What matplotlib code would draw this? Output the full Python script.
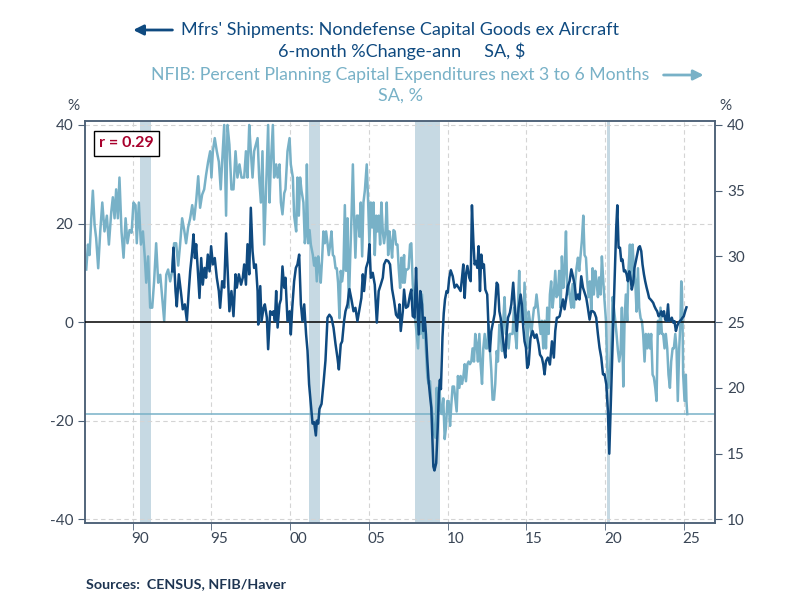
import matplotlib
matplotlib.use("Agg")
import matplotlib.pyplot as plt
from matplotlib.ticker import FixedLocator, NullFormatter

plt.rcParams["font.family"] = ["Lato", "DejaVu Sans"]
plt.rcParams["axes.unicode_minus"] = False

DARK = "#0f4a80"
LIGHT = "#78b1c7"
BAND = "#c6d9e3"
AXC = "#4d6177"
TXT = "#3a4656"

# ── Mfrs' shipments, nondefense capital goods ex aircraft (left axis, %) ──
dark_years = [
    1992.52, 1992.60, 1992.73, 1992.81, 1992.94, 1993.09, 1993.19, 1993.32, 1993.45, 1993.57,
    1993.66, 1993.79, 1993.87, 1993.96, 1994.04, 1994.15, 1994.25, 1994.36, 1994.46, 1994.57,
    1994.67, 1994.78, 1994.89, 1994.99, 1995.10, 1995.22, 1995.35, 1995.48, 1995.56, 1995.69,
    1995.82, 1995.94, 1996.05, 1996.15, 1996.28, 1996.41, 1996.54, 1996.62, 1996.75, 1996.89,
    1997.00, 1997.09, 1997.20, 1997.30, 1997.41, 1997.51, 1997.62, 1997.72, 1997.83, 1997.94,
    1997.98, 1998.11, 1998.19, 1998.32, 1998.40, 1998.53, 1998.61, 1998.74, 1998.87, 1998.95,
    1999.04, 1999.12, 1999.21, 1999.33, 1999.42, 1999.52, 1999.63, 1999.71, 1999.84, 1999.97,
    2000.05, 2000.14, 2000.26, 2000.37, 2000.47, 2000.58, 2000.69, 2000.79, 2000.90, 2001.02,
    2001.11, 2001.21, 2001.32, 2001.43, 2001.53, 2001.64, 2001.70, 2001.79, 2001.87, 2002.00,
    2002.12, 2002.25, 2002.38, 2002.50, 2002.63, 2002.76, 2002.89, 2003.01, 2003.10, 2003.22,
    2003.31, 2003.43, 2003.52, 2003.65, 2003.77, 2003.90, 2004.03, 2004.15, 2004.28, 2004.41,
    2004.53, 2004.62, 2004.70, 2004.83, 2004.96, 2005.04, 2005.13, 2005.25, 2005.38, 2005.51,
    2005.63, 2005.76, 2005.89, 2005.97, 2006.10, 2006.23, 2006.35, 2006.48, 2006.61, 2006.73,
    2006.86, 2006.95, 2007.03, 2007.16, 2007.24, 2007.36, 2007.49, 2007.62, 2007.70, 2007.79,
    2007.91, 2008.00, 2008.08, 2008.17, 2008.27, 2008.38, 2008.46, 2008.55, 2008.63, 2008.72,
    2008.80, 2008.89, 2008.97, 2009.04, 2009.10, 2009.17, 2009.28, 2009.38, 2009.45, 2009.52,
    2009.58, 2009.68, 2009.76, 2009.84, 2009.94, 2010.02, 2010.11, 2010.20, 2010.33, 2010.45,
    2010.58, 2010.70, 2010.83, 2010.92, 2011.00, 2011.09, 2011.17, 2011.26, 2011.38, 2011.47,
    2011.55, 2011.64, 2011.72, 2011.81, 2011.89, 2011.97, 2012.06, 2012.14, 2012.23, 2012.31,
    2012.40, 2012.52, 2012.61, 2012.69, 2012.78, 2012.86, 2012.99, 2013.12, 2013.20, 2013.29,
    2013.37, 2013.46, 2013.58, 2013.67, 2013.75, 2013.84, 2013.96, 2014.05, 2014.17, 2014.26,
    2014.39, 2014.51, 2014.64, 2014.72, 2014.81, 2014.89, 2014.98, 2015.06, 2015.15, 2015.27,
    2015.40, 2015.53, 2015.65, 2015.78, 2015.87, 2015.99, 2016.08, 2016.16, 2016.25, 2016.37,
    2016.50, 2016.63, 2016.75, 2016.84, 2016.94, 2017.01, 2017.12, 2017.22, 2017.33, 2017.43,
    2017.54, 2017.64, 2017.75, 2017.86, 2017.96, 2018.07, 2018.17, 2018.28, 2018.38, 2018.49,
    2018.60, 2018.70, 2018.81, 2018.91, 2019.02, 2019.12, 2019.23, 2019.33, 2019.44, 2019.55,
    2019.65, 2019.76, 2019.87, 2019.97, 2020.08, 2020.18, 2020.27, 2020.40, 2020.50, 2020.60,
    2020.71, 2020.78, 2020.86, 2020.95, 2021.03, 2021.11, 2021.20, 2021.28, 2021.37, 2021.45,
    2021.54, 2021.62, 2021.70, 2021.79, 2021.87, 2021.96, 2022.04, 2022.13, 2022.21, 2022.30,
    2022.38, 2022.47, 2022.55, 2022.64, 2022.72, 2022.80, 2022.89, 2022.97, 2023.06, 2023.14,
    2023.23, 2023.31, 2023.40, 2023.48, 2023.57, 2023.65, 2023.74, 2023.82, 2023.91, 2024.00,
    2024.07, 2024.16, 2024.24, 2024.33, 2024.41, 2024.50, 2024.58, 2024.67, 2024.75, 2024.84,
    2024.92, 2025.00, 2025.09, 2025.17,
]
dark_vals = [
    10.3, 15.1, 6.3, 3.2, 9.7, 5.6, 2.6, 3.6, 0.3, 6.3,
    10.3, 14.4, 17.8, 13.0, 15.8, 10.3, 4.9, 13.0, 7.6, 11.0,
    9.0, 13.7, 10.3, 15.4, 11.7, 13.0, 9.0, 6.3, 2.9, 8.3,
    7.0, 18.0, 9.7, 2.2, 6.3, 1.2, 9.7, 7.0, 9.7, 7.6,
    9.0, 11.7, 7.6, 15.8, 9.7, 23.2, 14.4, 11.0, 11.7, 6.3,
    -0.5, 7.3, 0.2, 2.9, 3.6, 0.9, -5.5, 2.2, 1.5, 2.2,
    0.2, 6.3, -1.1, 3.6, 4.6, 11.3, 7.0, 9.0, 0.2, 2.2,
    -2.5, 2.9, 8.3, 11.0, 11.7, 13.7, 3.6, 0.2, 3.6, -2.5,
    -5.8, -12.6, -16.6, -20.6, -20.3, -23.0, -20.0, -20.6, -17.6, -16.6,
    -12.6, -7.8, 0.9, 1.5, 0.9, -1.1, -4.5, -7.2, -9.6, -4.5,
    -3.9, 0.2, 2.2, 3.6, 6.7, 4.6, 2.2, 2.9, 0.2, 2.6,
    4.9, 9.7, 6.3, 11.0, 12.4, 15.8, 9.0, 10.0, 7.6, -0.1,
    6.3, 7.6, 9.0, 11.7, 12.6, 12.4, 11.7, 6.7, 4.3, 1.5,
    0.9, 3.6, -1.8, 2.2, 6.6, 2.9, 3.2, 5.6, 6.6, 1.2,
    0.9, 11.0, 3.6, -2.5, 6.3, 3.6, -1.8, 0.9, -2.5, -7.9,
    -12.0, -15.0, -17.4, -23.9, -29.3, -30.1, -28.6, -21.2, -14.4, -11.7,
    -13.6, -3.0, 1.8, 4.6, 6.3, 6.0, 9.0, 10.5, 9.3, 7.0,
    7.6, 7.0, 6.3, 9.0, 11.7, 4.9, 9.7, 11.4, 9.0, 8.3,
    23.7, 16.4, 11.7, 12.4, 11.0, 15.4, 6.3, 13.7, 11.0, 11.7,
    6.6, 5.6, -1.8, -5.9, -1.8, -0.5, 1.6, 8.0, 7.6, 2.2,
    0.9, -1.8, -5.2, -7.2, -2.5, 0.9, 1.9, 3.6, 8.0, 3.6,
    -1.8, 2.9, 5.6, 3.6, -1.1, -3.9, -5.2, -9.3, -8.6, -3.2,
    -1.8, -3.2, -2.5, -4.5, -6.6, -7.2, -8.6, -10.6, -7.9, -7.2,
    -8.6, -3.9, -7.2, -1.8, 0.9, 0.9, 1.2, 2.9, 4.6, 2.6,
    4.9, 7.3, 8.3, 10.7, 9.3, 7.6, 4.6, 5.6, 4.6, 9.3,
    7.0, 6.0, 4.9, 2.9, 0.5, 2.2, 2.2, 1.9, 0.9, -2.5,
    -5.2, -7.2, -10.6, -10.6, -12.6, -18.0, -26.7, -12.6, -2.5, 7.6,
    19.1, 23.7, 15.1, 15.1, 12.4, 12.7, 10.3, 10.5, 9.7, 8.3,
    10.3, 9.0, 6.6, 8.0, 11.0, 12.4, 13.7, 15.1, 15.4, 14.4,
    11.7, 9.7, 8.3, 7.0, 6.0, 4.9, 4.6, 4.3, 3.9, 3.2,
    2.6, 2.2, 1.2, 1.5, 2.2, 1.2, 2.2, 0.5, 0.2, 3.6,
    0.2, 0.5, 0.9, -0.1, 0.2, -1.8, -0.8, -0.1, 0.2, 0.5,
    0.9, 1.2, 2.2, 3.0,
]

# ── NFIB: percent planning capital expenditures next 3-6 months (right axis) ──
light_years = [
    1987.06, 1987.17, 1987.27, 1987.38, 1987.48, 1987.59, 1987.69, 1987.82, 1987.95, 1988.08,
    1988.22, 1988.37, 1988.50, 1988.65, 1988.75, 1988.86, 1988.96, 1989.07, 1989.17, 1989.30,
    1989.43, 1989.56, 1989.68, 1989.81, 1989.94, 1990.06, 1990.19, 1990.27, 1990.40, 1990.53,
    1990.66, 1990.78, 1990.87, 1990.99, 1991.12, 1991.25, 1991.37, 1991.50, 1991.63, 1991.76,
    1991.88, 1992.01, 1992.14, 1992.26, 1992.39, 1992.52, 1992.64, 1992.77, 1992.90, 1993.02,
    1993.15, 1993.28, 1993.40, 1993.53, 1993.66, 1993.79, 1993.91, 1994.04, 1994.17, 1994.29,
    1994.42, 1994.55, 1994.67, 1994.80, 1994.93, 1995.01, 1995.10, 1995.22, 1995.35, 1995.48,
    1995.60, 1995.69, 1995.82, 1995.94, 1996.03, 1996.15, 1996.28, 1996.41, 1996.54, 1996.66,
    1996.79, 1996.92, 1997.09, 1997.20, 1997.30, 1997.41, 1997.51, 1997.62, 1997.72, 1997.83,
    1997.94, 1998.04, 1998.15, 1998.25, 1998.36, 1998.49, 1998.61, 1998.70, 1998.78, 1998.91,
    1998.99, 1999.12, 1999.21, 1999.33, 1999.42, 1999.52, 1999.63, 1999.71, 1999.84, 1999.97,
    2000.05, 2000.18, 2000.26, 2000.39, 2000.47, 2000.56, 2000.64, 2000.73, 2000.85, 2000.94,
    2001.02, 2001.07, 2001.15, 2001.24, 2001.32, 2001.45, 2001.53, 2001.62, 2001.70, 2001.79,
    2001.87, 2001.95, 2002.04, 2002.12, 2002.21, 2002.29, 2002.38, 2002.46, 2002.55, 2002.63,
    2002.72, 2002.80, 2002.89, 2002.97, 2003.05, 2003.14, 2003.22, 2003.31, 2003.39, 2003.48,
    2003.56, 2003.65, 2003.73, 2003.82, 2003.90, 2003.99, 2004.07, 2004.15, 2004.24, 2004.32,
    2004.41, 2004.49, 2004.58, 2004.66, 2004.75, 2004.87, 2004.96, 2005.04, 2005.13, 2005.21,
    2005.30, 2005.38, 2005.47, 2005.55, 2005.63, 2005.72, 2005.80, 2005.89, 2005.97, 2006.06,
    2006.14, 2006.23, 2006.31, 2006.40, 2006.48, 2006.57, 2006.65, 2006.73, 2006.82, 2006.90,
    2006.99, 2007.07, 2007.16, 2007.24, 2007.28, 2007.36, 2007.45, 2007.53, 2007.62, 2007.70,
    2007.79, 2007.87, 2007.96, 2008.04, 2008.13, 2008.21, 2008.29, 2008.38, 2008.46, 2008.55,
    2008.63, 2008.72, 2008.80, 2008.89, 2008.97, 2009.06, 2009.14, 2009.23, 2009.31, 2009.39,
    2009.48, 2009.56, 2009.65, 2009.73, 2009.82, 2009.90, 2009.99, 2010.07, 2010.16, 2010.24,
    2010.32, 2010.41, 2010.49, 2010.58, 2010.66, 2010.75, 2010.83, 2010.92, 2011.00, 2011.09,
    2011.17, 2011.26, 2011.34, 2011.42, 2011.51, 2011.59, 2011.68, 2011.76, 2011.85, 2011.93,
    2012.02, 2012.10, 2012.19, 2012.27, 2012.36, 2012.44, 2012.52, 2012.61, 2012.69, 2012.78,
    2012.86, 2012.95, 2013.03, 2013.12, 2013.20, 2013.29, 2013.37, 2013.46, 2013.54, 2013.62,
    2013.71, 2013.79, 2013.88, 2013.96, 2014.05, 2014.13, 2014.22, 2014.30, 2014.39, 2014.47,
    2014.55, 2014.64, 2014.72, 2014.81, 2014.89, 2014.98, 2015.06, 2015.15, 2015.23, 2015.32,
    2015.40, 2015.49, 2015.57, 2015.65, 2015.74, 2015.82, 2015.91, 2015.99, 2016.08, 2016.16,
    2016.25, 2016.33, 2016.42, 2016.50, 2016.58, 2016.67, 2016.75, 2016.84, 2016.92, 2017.01,
    2017.09, 2017.18, 2017.26, 2017.35, 2017.43, 2017.52, 2017.60, 2017.69, 2017.77, 2017.86,
    2017.94, 2018.03, 2018.11, 2018.19, 2018.28, 2018.36, 2018.45, 2018.53, 2018.62, 2018.70,
    2018.79, 2018.87, 2018.96, 2019.04, 2019.13, 2019.21, 2019.29, 2019.38, 2019.46, 2019.55,
    2019.63, 2019.72, 2019.80, 2019.89, 2019.97, 2020.06, 2020.14, 2020.22, 2020.31, 2020.39,
    2020.48, 2020.56, 2020.65, 2020.73, 2020.82, 2020.90, 2020.99, 2021.07, 2021.16, 2021.24,
    2021.32, 2021.41, 2021.49, 2021.58, 2021.66, 2021.75, 2021.83, 2021.92, 2022.00, 2022.09,
    2022.17, 2022.26, 2022.34, 2022.42, 2022.51, 2022.59, 2022.68, 2022.76, 2022.85, 2022.93,
    2023.02, 2023.10, 2023.19, 2023.27, 2023.36, 2023.44, 2023.52, 2023.61, 2023.69, 2023.78,
    2023.86, 2023.95, 2024.03, 2024.12, 2024.20, 2024.29, 2024.37, 2024.46, 2024.54, 2024.62,
    2024.71, 2024.79, 2024.84, 2024.88, 2024.92, 2024.96, 2025.05, 2025.13, 2025.17, 2025.22,
]
light_vals = [
    29.0, 30.9, 30.1, 32.9, 35.0, 32.4, 31.4, 29.1, 31.9, 34.1,
    31.9, 33.1, 30.9, 33.4, 34.5, 32.9, 35.1, 32.9, 36.0, 31.9,
    29.9, 32.9, 31.0, 32.0, 31.8, 34.1, 33.9, 31.0, 34.1, 30.9,
    31.9, 29.9, 28.0, 30.0, 26.1, 26.1, 28.1, 31.0, 28.0, 28.6,
    26.9, 25.1, 28.6, 29.0, 28.1, 28.9, 31.0, 31.0, 29.3, 30.9,
    32.9, 32.0, 31.0, 32.2, 32.9, 33.9, 32.8, 34.2, 36.1, 33.7,
    34.7, 35.1, 36.2, 37.2, 38.0, 36.0, 38.0, 39.0, 38.0, 37.2,
    35.1, 37.2, 40.0, 33.1, 40.0, 38.5, 35.1, 35.1, 38.0, 36.0,
    37.0, 36.0, 36.0, 38.0, 36.0, 40.0, 38.0, 36.0, 38.0, 38.5,
    39.0, 36.0, 34.1, 38.0, 30.9, 35.5, 40.0, 34.1, 37.0, 40.0,
    36.0, 37.0, 36.0, 37.0, 34.1, 33.2, 34.8, 35.1, 38.0, 39.0,
    37.0, 36.0, 33.1, 31.9, 36.0, 33.1, 36.0, 35.0, 34.1, 31.0,
    31.9, 37.0, 31.0, 32.0, 30.9, 30.1, 29.3, 29.9, 28.1, 30.0,
    29.1, 28.0, 29.9, 31.9, 31.0, 31.9, 31.0, 30.1, 30.9, 31.9,
    30.1, 30.0, 29.1, 29.1, 28.0, 25.3, 28.9, 28.1, 29.0, 33.9,
    28.9, 32.9, 26.1, 29.9, 32.9, 37.0, 32.9, 29.9, 33.1, 33.1,
    31.5, 34.1, 30.0, 34.1, 35.0, 37.0, 34.1, 30.9, 34.1, 32.2,
    34.1, 30.1, 33.1, 31.9, 33.1, 30.9, 34.1, 31.9, 31.0, 31.9,
    34.1, 30.1, 31.9, 31.0, 29.9, 32.0, 31.9, 30.9, 30.9, 29.1,
    27.6, 29.9, 28.0, 30.1, 28.0, 29.0, 29.0, 29.1, 30.9, 31.0,
    27.9, 26.9, 25.1, 24.1, 23.0, 25.3, 24.1, 27.1, 23.8, 25.3,
    22.8, 20.8, 20.3, 20.5, 18.7, 17.7, 16.5, 16.2, 20.0, 18.2,
    20.5, 18.2, 18.0, 19.2, 16.1, 17.0, 19.0, 19.0, 17.1, 18.7,
    20.1, 20.1, 19.2, 18.2, 20.9, 20.0, 20.9, 20.3, 20.8, 21.8,
    20.5, 21.8, 22.0, 21.8, 22.0, 23.0, 22.0, 24.1, 23.3, 22.0,
    24.1, 21.8, 20.3, 23.0, 24.1, 23.0, 23.0, 24.8, 23.0, 21.3,
    19.1, 19.1, 20.3, 22.8, 22.0, 24.8, 24.1, 22.8, 25.1, 26.9,
    24.1, 24.1, 23.0, 24.1, 24.1, 24.1, 26.1, 24.1, 23.0, 26.1,
    28.9, 25.1, 26.1, 24.8, 28.0, 25.1, 23.0, 25.8, 25.1, 24.1,
    25.1, 26.1, 26.1, 27.1, 26.1, 25.1, 24.1, 25.1, 23.0, 25.1,
    23.0, 26.1, 24.1, 27.1, 28.1, 26.1, 27.1, 28.9, 26.9, 27.1,
    28.9, 26.1, 30.0, 27.6, 28.9, 31.9, 27.1, 27.9, 26.9, 26.1,
    27.9, 26.1, 28.1, 29.1, 29.9, 28.9, 30.1, 31.2, 33.1, 30.1,
    29.9, 28.1, 26.9, 28.1, 25.8, 29.1, 27.1, 28.9, 28.1, 26.9,
    28.4, 27.1, 30.0, 28.1, 26.6, 25.1, 21.5, 20.0, 21.3, 22.8,
    26.9, 26.1, 25.1, 24.1, 22.8, 22.0, 22.8, 26.1, 20.1, 25.1,
    27.1, 25.1, 29.1, 30.9, 28.1, 30.9, 29.1, 28.1, 25.8, 29.1,
    26.1, 25.3, 25.1, 24.1, 22.0, 24.1, 23.0, 24.1, 23.0, 24.1,
    21.0, 20.8, 20.0, 19.0, 25.1, 24.1, 26.1, 24.1, 24.1, 23.0,
    24.1, 23.0, 21.0, 20.0, 22.0, 23.0, 23.0, 24.1, 23.0, 19.0,
    23.0, 25.1, 28.1, 27.6, 25.1, 21.0, 19.0, 21.0, 19.0, 18.0,
]

recessions = [(1990.5, 1991.2), (2001.2, 2001.9), (2007.92, 2009.5), (2020.12, 2020.33)]
year_ticks = [1990, 1995, 2000, 2005, 2010, 2015, 2020, 2025]
year_labels = ["90", "95", "00", "05", "10", "15", "20", "25"]
latest_nfib = 18.0
corr_label = "r = 0.29"

assert len(dark_years) == len(dark_vals)
assert len(light_years) == len(light_vals)

fig = plt.figure(figsize=(8, 6), dpi=100)
ax = fig.add_axes([0.1066, 0.128, 0.7875, 0.6703])
ax2 = ax.twinx()
ax.set_zorder(ax2.get_zorder() + 1)
ax.patch.set_visible(False)

ax.set_xlim(1987, 2027)
ax.set_ylim(-40.8, 40.8)
ax2.set_ylim(9.7, 40.3)

# recession bands + grid on the back axis
for a, b in recessions:
    ax2.axvspan(a, b, color=BAND, lw=0, zorder=0)
for yv in [10, 17.5, 32.5, 40]:
    ax2.axhline(yv, color="#d4d4d4", lw=0.8, ls=(0, (4, 3)), zorder=0.5)
for xv in year_ticks:
    ax2.axvline(xv, color="#d4d4d4", lw=0.8, ls=(0, (4, 3)), zorder=0.5)

ax2.plot(light_years, light_vals, color=LIGHT, lw=1.8, zorder=2)
ax2.axhline(latest_nfib, color=LIGHT, lw=1.1, zorder=2)

ax.axhline(0, color="black", lw=1.1, zorder=3)
ax.plot(dark_years, dark_vals, color=DARK, lw=1.8, zorder=4)

# ticks: marks at each 5th January, labels centred in the year
ax.set_yticks([-40, -20, 0, 20, 40])
ax2.set_yticks([10, 15, 20, 25, 30, 35, 40])
ax.xaxis.set_major_locator(FixedLocator([y + 0.5 for y in year_ticks]))
ax.set_xticklabels(year_labels)
ax.xaxis.set_minor_locator(FixedLocator(year_ticks))
ax.xaxis.set_minor_formatter(NullFormatter())
ax.tick_params(axis="x", which="minor", length=5, color=AXC, direction="out")
ax.tick_params(axis="x", which="major", length=0, labelsize=11, labelcolor=TXT, pad=6)
ax.tick_params(axis="y", length=5, color=AXC, labelsize=11, labelcolor=TXT)
ax2.tick_params(axis="y", length=5, color=AXC, labelsize=11, labelcolor=TXT)

for a in (ax, ax2):
    for s in a.spines.values():
        s.set_color(AXC)
        s.set_linewidth(1.1)

fig.text(0.092, 0.823, "%", fontsize=11, color=TXT, ha="center", va="center")
fig.text(0.907, 0.823, "%", fontsize=11, color=TXT, ha="center", va="center")

ax.text(0.022, 0.962, corr_label, transform=ax.transAxes, fontsize=11.5,
        fontweight="bold", color="#a8002c", ha="left", va="top",
        bbox=dict(boxstyle="square,pad=0.35", fc="white", ec="black", lw=1))

# titles
fig.text(0.500, 0.950, "Mfrs' Shipments: Nondefense Capital Goods ex Aircraft",
         fontsize=13, color=DARK, ha="center", va="center")
fig.text(0.502, 0.915, "6-month %Change-ann     SA, $",
         fontsize=13, color=DARK, ha="center", va="center")
fig.text(0.500, 0.875, "NFIB: Percent Planning Capital Expenditures next 3 to 6 Months",
         fontsize=12.7, color=LIGHT, ha="center", va="center")
fig.text(0.500, 0.840, "SA, %", fontsize=13, color=LIGHT, ha="center", va="center")

fig.add_artist(matplotlib.patches.FancyArrowPatch(
    (0.219, 0.950), (0.163, 0.950), transform=fig.transFigure,
    arrowstyle="-|>,head_length=6,head_width=3", color=DARK, lw=2))
fig.add_artist(matplotlib.patches.FancyArrowPatch(
    (0.826, 0.875), (0.883, 0.875), transform=fig.transFigure,
    arrowstyle="-|>,head_length=6,head_width=3", color=LIGHT, lw=2))

fig.text(0.107, 0.026, "Sources:  CENSUS, NFIB/Haver", fontsize=10.3,
         fontweight="bold", color="#1e3552", ha="left", va="center")

fig.savefig("out.png", dpi=100)
